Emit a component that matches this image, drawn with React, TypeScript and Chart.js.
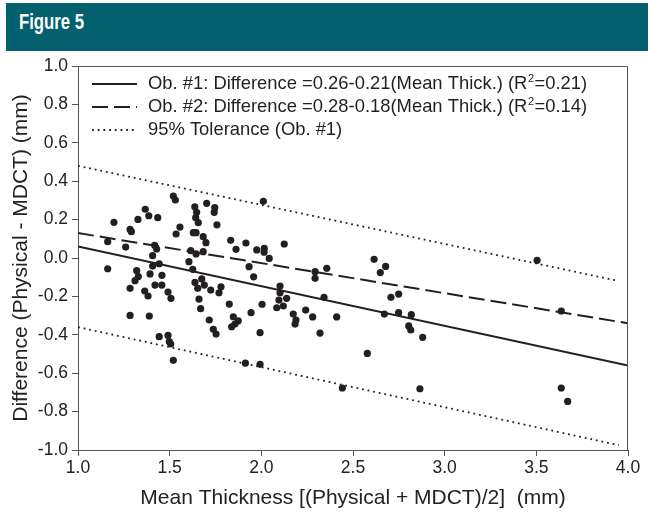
import React, { useEffect, useRef } from "react";
import { Chart, registerables } from "chart.js";

Chart.register(...registerables);

// Scatter points: mean thickness (x) vs difference (y)
const meanThickness = [
  1.52, 1.531, 1.196, 1.367, 1.327, 1.386, 1.435, 1.284, 1.291, 1.556,
  1.535, 1.162, 1.26, 1.418, 1.429, 1.407, 1.443, 1.407, 1.162, 1.32,
  1.329, 1.311, 1.393, 1.458, 1.284, 1.42, 1.457, 1.364, 1.382, 1.491,
  1.507, 1.284, 1.389, 1.443, 1.491, 1.498, 1.506, 1.52, 2.011, 1.702,
  1.637, 1.647, 1.642, 1.656, 1.746, 1.743, 1.758, 1.629, 1.644, 1.683,
  1.698, 1.833, 1.916, 2.125, 1.862, 1.975, 2.016, 2.015, 2.043, 1.615,
  1.644, 1.683, 1.933, 1.605, 1.626, 1.958, 2.102, 2.102, 1.638, 1.653,
  1.675, 1.689, 1.724, 1.78, 1.769, 1.66, 2.096, 2.12, 2.138, 2.084,
  1.825, 2.004, 1.669, 2.242, 1.944, 1.847, 1.874, 1.856, 1.838, 2.174,
  2.189, 2.184, 1.716, 1.738, 1.753, 1.993, 1.913, 1.993, 2.615, 2.678,
  2.649, 2.293, 2.293, 2.357, 2.342, 2.707, 2.749, 2.28, 2.411, 2.671,
  2.749, 2.818, 2.804, 2.815, 2.88, 2.32, 2.578, 2.442, 2.865, 3.504,
  3.636, 3.636, 3.671,
];
const difference = [
  0.323, 0.302, 0.186, 0.254, 0.201, 0.22, 0.21, 0.149, 0.137, 0.161,
  0.125, 0.085, 0.057, 0.066, 0.047, 0.012, -0.03, -0.042, -0.056, -0.066,
  -0.097, -0.118, -0.083, -0.09, -0.158, -0.141, -0.141, -0.172, -0.198, -0.177,
  -0.21, -0.299, -0.302, -0.41, -0.403, -0.436, -0.448, -0.533, 0.295, 0.285,
  0.267, 0.238, 0.21, 0.184, 0.262, 0.238, 0.173, 0.132, 0.132, 0.111,
  0.08, 0.092, 0.078, 0.073, 0.045, 0.042, 0.05, 0.03, -0.002, 0.038,
  0.021, 0.033, -0.045, -0.019, -0.059, -0.098, -0.146, -0.181, -0.127, -0.158,
  -0.109, -0.141, -0.167, -0.15, -0.181, -0.214, -0.219, -0.25, -0.21, -0.259,
  -0.24, -0.241, -0.264, -0.271, -0.285, -0.306, -0.327, -0.344, -0.358, -0.292,
  -0.323, -0.344, -0.323, -0.371, -0.396, -0.389, -0.548, -0.554, -0.007, -0.044,
  -0.076, -0.071, -0.106, -0.054, -0.205, -0.205, -0.188, -0.307, -0.307, -0.292,
  -0.285, -0.295, -0.354, -0.375, -0.413, -0.391, -0.497, -0.677, -0.681, -0.012,
  -0.276, -0.677, -0.747,
];

// Fitted lines (end points)
const obs1LineX = [1.0, 4.0];
const obs1LineY = [0.06, -0.56];
const obs2LineX = [1.0, 4.0];
const obs2LineY = [0.13, -0.34];
const tolUpperX = [1.0, 3.95];
const tolUpperY = [0.48, -0.12];
const tolLowerX = [1.0, 3.95];
const tolLowerY = [-0.36, -0.975];

const legendLabels = [
  "Ob. #1: Difference =0.26-0.21(Mean Thick.) (R²=0.21)",
  "Ob. #2: Difference =0.28-0.18(Mean Thick.) (R²=0.14)",
  "95% Tolerance (Ob. #1)",
];

const figureTitle = "Figure 5";
const xTitle = "Mean Thickness [(Physical + MDCT)/2]  (mm)";
const yTitle = "Difference (Physical - MDCT) (mm)";

const FONT = '"Liberation Sans", Arial, Helvetica, sans-serif';
const INK = "#231f20";
const AXIS = "#555555";

const SOLID: number[] = [];
const DASHED = [16, 6];
const DOTTED = [1.8, 3.9];
const legendDashes = [SOLID, DASHED, DOTTED];

function zip(xs: number[], ys: number[]) {
  return xs.map((x, i) => ({ x, y: ys[i] }));
}

const framePlugin = {
  id: "frameAndLegend",
  afterDraw(chart: any) {
    const { ctx, chartArea } = chart;
    const { left, top, right, bottom } = chartArea;
    ctx.save();
    // frame
    ctx.strokeStyle = AXIS;
    ctx.lineWidth = 1;
    ctx.setLineDash([]);
    ctx.beginPath();
    ctx.moveTo(left + 0.5, top + 0.5);
    ctx.lineTo(right - 0.5, top + 0.5);
    ctx.lineTo(right - 0.5, bottom);
    ctx.stroke();

    // legend
    const fontSize = 18.4;
    legendLabels.forEach((label, i) => {
      const y = top + 18 + i * 23;
      ctx.strokeStyle = INK;
      ctx.lineWidth = i === 2 ? 1.8 : 2;
      ctx.setLineDash(legendDashes[i]);
      ctx.beginPath();
      ctx.moveTo(left + 14, y);
      ctx.lineTo(left + 59, y);
      ctx.stroke();
      ctx.setLineDash([]);
      ctx.fillStyle = INK;
      ctx.textBaseline = "middle";
      ctx.textAlign = "left";
      let x = left + 70;
      const parts = label.split("²");
      parts.forEach((part, j) => {
        ctx.font = `${fontSize}px ${FONT}`;
        ctx.fillText(part, x, y);
        x += ctx.measureText(part).width;
        if (j < parts.length - 1) {
          ctx.font = `${fontSize * 0.6}px ${FONT}`;
          ctx.fillText("2", x + 0.5, y - 5);
          x += ctx.measureText("2").width + 1;
        }
      });
    });
    ctx.restore();
  },
};

export default function App() {
  const canvasRef = useRef<HTMLCanvasElement | null>(null);

  useEffect(() => {
    if (!canvasRef.current) return;
    const chart = new Chart(canvasRef.current, {
      type: "scatter",
      data: {
        datasets: [
          {
            label: "points",
            data: zip(meanThickness, difference),
            pointRadius: 3.6,
            pointBackgroundColor: INK,
            pointBorderWidth: 0,
            showLine: false,
          },
          {
            label: legendLabels[0],
            data: zip(obs1LineX, obs1LineY),
            showLine: true,
            pointRadius: 0,
            borderColor: INK,
            borderWidth: 2,
          },
          {
            label: legendLabels[1],
            data: zip(obs2LineX, obs2LineY),
            showLine: true,
            pointRadius: 0,
            borderColor: INK,
            borderWidth: 2,
            borderDash: DASHED,
          },
          {
            label: legendLabels[2],
            data: zip(tolUpperX, tolUpperY),
            showLine: true,
            pointRadius: 0,
            borderColor: INK,
            borderWidth: 1.8,
            borderDash: DOTTED,
          },
          {
            label: "lower tolerance",
            data: zip(tolLowerX, tolLowerY),
            showLine: true,
            pointRadius: 0,
            borderColor: INK,
            borderWidth: 1.8,
            borderDash: DOTTED,
          },
        ],
      },
      options: {
        responsive: false,
        animation: false,
        layout: { padding: { left: 0, top: 66, right: 20, bottom: 0 } },
        plugins: {
          legend: { display: false },
          tooltip: { enabled: false },
        },
        scales: {
          x: {
            type: "linear",
            min: 1,
            max: 4,
            ticks: {
              stepSize: 0.5,
              color: "#222",
              font: { family: FONT, size: 17.5 },
              padding: 2,
              callback: (v: any) => Number(v).toFixed(1),
            },
            grid: {
              drawOnChartArea: false,
              drawTicks: true,
              tickLength: 6,
              color: AXIS,
            },
            border: { display: true, color: AXIS, width: 1 },
            title: {
              display: true,
              text: xTitle,
              color: "#222",
              font: { family: FONT, size: 21 },
              padding: { top: 0, bottom: 1 },
            },
            afterFit: (s: any) => {
              s.height = 62;
            },
          },
          y: {
            type: "linear",
            min: -1,
            max: 1,
            ticks: {
              stepSize: 0.2,
              color: "#222",
              font: { family: FONT, size: 17.5 },
              padding: 4,
              callback: (v: any) => {
                const n = Number(v);
                return Math.abs(n) < 1e-9 ? "0.0" : n.toFixed(1);
              },
            },
            grid: {
              drawOnChartArea: false,
              drawTicks: true,
              tickLength: 6,
              color: AXIS,
            },
            border: { display: true, color: AXIS, width: 1 },
            title: {
              display: true,
              text: yTitle,
              color: "#222",
              font: { family: FONT, size: 21 },
              padding: { top: 9, bottom: 0 },
            },
            afterFit: (s: any) => {
              s.width = 78;
            },
          },
        },
      },
      plugins: [framePlugin],
    });
    return () => chart.destroy();
  }, []);

  return (
    <div
      style={{
        position: "absolute",
        left: 0,
        top: 0,
        width: 648,
        height: 512,
        background: "#fff",
        overflow: "hidden",
      }}
    >
      <canvas
        ref={canvasRef}
        width={648}
        height={512}
        style={{ position: "absolute", left: 0, top: 0, width: 648, height: 512 }}
      />
      <div
        style={{
          position: "absolute",
          left: 6,
          top: 3,
          width: 642,
          height: 48,
          background: "#02616d",
        }}
      >
        <div
          style={{
            position: "absolute",
            left: 13,
            top: 8,
            color: "#fff",
            fontFamily: '"Liberation Sans", Arial, sans-serif',
            fontWeight: "bold",
            fontSize: 22,
            lineHeight: "22px",
            whiteSpace: "nowrap",
            transform: "scaleX(0.76)",
            transformOrigin: "left center",
          }}
        >
          {figureTitle}
        </div>
      </div>
    </div>
  );
}
